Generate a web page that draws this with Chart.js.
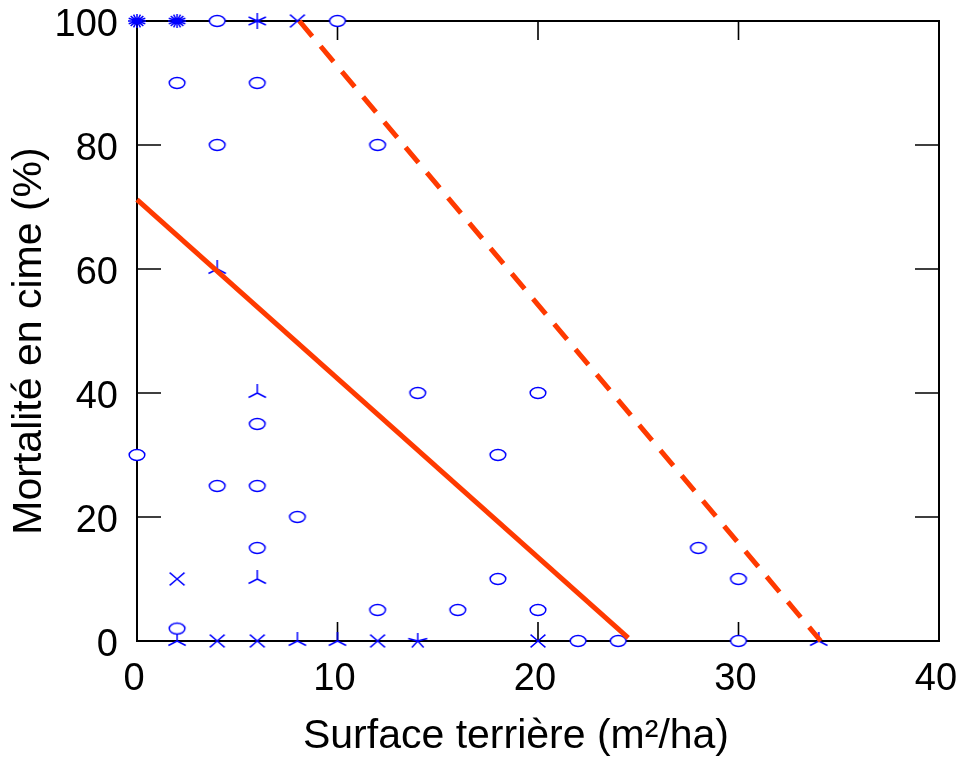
<!DOCTYPE html>
<html><head><meta charset="utf-8">
<script src="https://cdn.jsdelivr.net/npm/chart.js@4.4.1/dist/chart.umd.min.js"></script>
<style>html,body{margin:0;padding:0;background:#fff;}#wrap{width:961px;height:757px;position:relative;}</style>
</head><body><div id="wrap"><canvas id="c" width="961" height="757"></canvas></div>
<script>
// ---- data ----
const xTickValues = [0, 10, 20, 30, 40];
const yTickValues = [0, 20, 40, 60, 80, 100];
const xTitle = 'Surface terrière (m²/ha)';
const yTitle = 'Mortalité en cime (%)';

// single observations (ellipse markers)
const singleX = [4, 10, 2, 6, 4, 12, 14, 20, 6, 0, 18, 4, 6, 8, 6, 28, 18, 30, 12, 16, 20, 2, 22, 24, 30];
const singleY = [100, 100, 90, 90, 80, 80, 40, 40, 35, 30, 30, 25, 25, 20, 15, 15, 10, 10, 5, 5, 5, 2, 0, 0, 0];
// overlapping observations (sunflower petals)
const threeX = [4, 6, 6, 2, 8, 10, 34];
const threeY = [60, 40, 10, 0, 0, 0, 0];
const fourX = [8, 2, 4, 6, 12, 20];
const fourY = [100, 10, 0, 0, 0, 0];
const fiveX = [14];
const fiveY = [0];
const sixX = [6];
const sixY = [100];
const manyX = [0, 2];
const manyY = [100, 100];
// fitted lines
const solidLineX = [0, 24.5];
const solidLineY = [71.2, 0.5];
const dashedLineX = [8.1, 34.1];
const dashedLineY = [100, 0];

// ---- helpers ----
const BLUE = '#0000ff';
const RED = '#ff3a00';
const FONT = '"Liberation Sans", Arial, sans-serif';
function pts(xs, ys) { return xs.map((x, i) => ({x: x, y: ys[i]})); }

function ellipseMarker() {
  const c = document.createElement('canvas'); c.width = 24; c.height = 24;
  const g = c.getContext('2d');
  g.beginPath(); g.ellipse(12, 12, 7.8, 5.4, 0, 0, Math.PI * 2);
  g.fillStyle = '#fff'; g.fill();
  g.strokeStyle = BLUE; g.lineWidth = 1.5; g.stroke();
  return c;
}
function petalMarker(n, startDeg, rx, ry) {
  const c = document.createElement('canvas'); c.width = 26; c.height = 26;
  const g = c.getContext('2d');
  g.strokeStyle = BLUE; g.lineWidth = 1.5; g.lineCap = 'butt';
  g.beginPath();
  for (let k = 0; k < n; k++) {
    const a = (startDeg + k * 360 / n) * Math.PI / 180;
    g.moveTo(13, 13);
    g.lineTo(13 + rx * Math.cos(a), 13 - ry * Math.sin(a));
  }
  g.stroke();
  return c;
}

const frameTicks = {
  id: 'frameTicks',
  beforeDatasetsDraw(chart) {
    const {ctx, chartArea: a, scales: {x, y}} = chart;
    ctx.save();
    ctx.strokeStyle = '#000';
    ctx.lineWidth = 1.6;
    ctx.beginPath();
    x.ticks.forEach((t, i) => {
      const px = x.getPixelForTick(i);
      ctx.moveTo(px, a.bottom); ctx.lineTo(px, a.bottom - 19);
      ctx.moveTo(px, a.top); ctx.lineTo(px, a.top + 19);
    });
    y.ticks.forEach((t, i) => {
      const py = y.getPixelForTick(i);
      ctx.moveTo(a.left, py); ctx.lineTo(a.left + 24, py);
      ctx.moveTo(a.right, py); ctx.lineTo(a.right - 24, py);
    });
    ctx.stroke();
    ctx.lineWidth = 2;
    ctx.strokeRect(a.left, a.top, a.right - a.left, a.bottom - a.top);
    ctx.restore();
  },
  afterDraw(chart) {
    const {ctx} = chart;
    ctx.save();
    ctx.fillStyle = '#000';
    ctx.font = '41px ' + FONT;
    ctx.textAlign = 'center';
    ctx.textBaseline = 'middle';
    ctx.fillText(xTitle, 516, 737);
    ctx.translate(30, 341);
    ctx.rotate(-Math.PI / 2);
    ctx.fillText(yTitle, 0, 0);
    ctx.restore();
  }
};

new Chart(document.getElementById('c'), {
  type: 'scatter',
  data: {
    datasets: [
      {type: 'line', data: pts(solidLineX, solidLineY), borderColor: RED, borderWidth: 5, pointRadius: 0, fill: false, order: 0, clip: false},
      {type: 'line', data: pts(dashedLineX, dashedLineY), borderColor: RED, borderWidth: 5, borderDash: [20, 13], pointRadius: 0, fill: false, order: 0, clip: false},
      {data: pts(singleX, singleY), pointStyle: ellipseMarker(), order: 1, clip: false},
      {data: pts(threeX, threeY), pointStyle: petalMarker(3, 90, 10, 9), order: 1, clip: false},
      {data: pts(fourX, fourY), pointStyle: petalMarker(4, 45, 10.5, 9), order: 1, clip: false},
      {data: pts(fiveX, fiveY), pointStyle: petalMarker(5, 90, 10, 8), order: 1, clip: false},
      {data: pts(sixX, sixY), pointStyle: petalMarker(6, 90, 10, 8), order: 1, clip: false},
      {data: pts(manyX, manyY), pointStyle: petalMarker(16, 90, 9, 7), order: 1, clip: false}
    ]
  },
  options: {
    responsive: false,
    animation: false,
    devicePixelRatio: 1,
    layout: {padding: {top: 21, right: 22, left: 0, bottom: 0}},
    plugins: {legend: {display: false}, tooltip: {enabled: false}},
    scales: {
      x: {
        type: 'linear', min: 0, max: 40,
        afterBuildTicks: s => { s.ticks = xTickValues.map(v => ({value: v})); },
        afterFit: s => { s.height = 116; s.paddingLeft = 0; s.paddingRight = 0; },
        grid: {display: false, drawTicks: false},
        border: {display: false},
        ticks: {color: '#000', font: {family: FONT, size: 38, lineHeight: 1}, padding: 20, labelOffset: -3, maxRotation: 0},
        title: {display: false}
      },
      y: {
        type: 'linear', min: 0, max: 100,
        afterBuildTicks: s => { s.ticks = yTickValues.map(v => ({value: v})); },
        afterFit: s => { s.width = 137; s.paddingTop = 0; s.paddingBottom = 0; },
        grid: {display: false, drawTicks: false},
        border: {display: false},
        ticks: {color: '#000', font: {family: FONT, size: 38, lineHeight: 1}, padding: 19, labelOffset: 5},
        title: {display: false}
      }
    }
  },
  plugins: [frameTicks]
});
</script>
</body></html>
